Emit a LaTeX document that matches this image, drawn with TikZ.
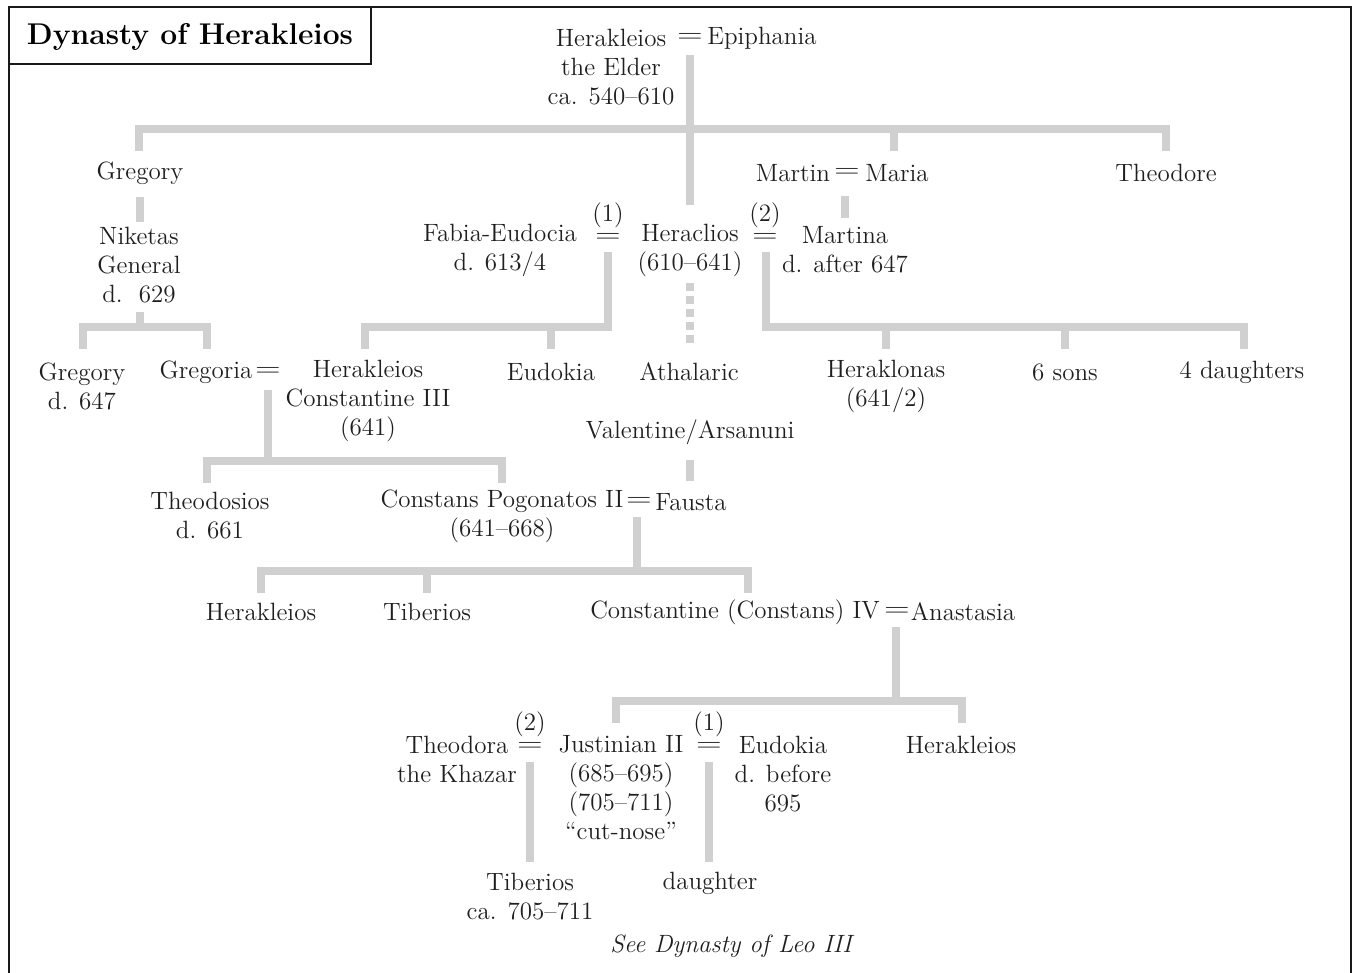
\documentclass[tikz,border=0pt]{standalone}
\newcommand{\weq}{\scalebox{1.35}[1]{=}}
\begin{document}
\begin{tikzpicture}[x=0.5pt,y=-0.5pt,
  txt/.style={inner sep=0pt, align=center, text=black!88,
    font=\fontsize{12.5}{14.5}\selectfont},
  eqs/.style={inner sep=0pt, text=black!88, font=\fontsize{12.5}{14.5}\selectfont},
  lab/.style={inner sep=0pt, align=center, text=black!88, font=\fontsize{12.5}{10.5}\selectfont},
  gl/.style={draw={rgb,255:red,208;green,208;blue,208}, line width=3.75pt, line join=miter, line cap=butt},
  gldot/.style={gl, dash pattern=on 4pt off 2.5pt},
  frame/.style={draw=black!90, line width=0.8pt}]
\useasboundingbox (0,0) rectangle (1354,973);
% frame and title
\draw[frame] (9,990) -- (9,7) -- (1351,7) -- (1351,990);
\draw[frame] (9,7) rectangle (371,64);
\node[inner sep=0pt, font=\fontsize{15}{17}\selectfont\bfseries] (title) at (190,37) {Dynasty of Herakleios};

% nodes
\node[txt] (hk) at (611,67) {Herakleios\\the Elder\\ca. 540–610};
\node[eqs] (eq0) at (690,38) {\weq};
\node[txt] (epi) at (762,38) {Epiphania};
\node[txt] (greg1) at (140,173) {Gregory};
\node[txt] (martin) at (793,173) {Martin};
\node[eqs] (eqm) at (847,173) {\weq};
\node[txt] (maria) at (897,173) {Maria};
\node[txt] (theo) at (1166,173) {Theodore};
\node[txt] (nik) at (139,265) {Niketas\\General\\d.~~629};
\node[txt] (fabia) at (500,250) {Fabia-Eudocia\\d. 613/4};
\node[lab] (eq1) at (608,223) {(1)\\\weq};
\node[txt] (hera) at (690,250) {Heraclios\\(610–641)};
\node[lab] (eq2) at (765,223) {(2)\\\weq};
\node[txt] (martina) at (845,250) {Martina\\d. after 647};
\node[txt] (greg2) at (82,386) {Gregory\\d. 647};
\node[txt] (gregoria) at (206,372) {Gregoria};
\node[eqs] (eqg) at (268,372) {\weq};
\node[txt] (hc3) at (368,401) {Herakleios\\Constantine III\\(641)};
\node[txt] (eudokia1) at (551,372) {Eudokia};
\node[txt] (athal) at (689,372) {Athalaric};
\node[txt] (heraklonas) at (886,386) {Heraklonas\\(641/2)};
\node[txt] (sons) at (1065,372) {6 sons};
\node[txt] (daught) at (1242,372) {4 daughters};
\node[txt] (valent) at (690,432) {Valentine/Arsanuni};
\node[txt] (theodos) at (210,516) {Theodosios\\d. 661};
\node[txt] (constans) at (502,516) {Constans Pogonatos II\\(641–668)};
\node[eqs] (eqc) at (639,502) {\weq};
\node[txt] (fausta) at (691,502) {Fausta};
\node[txt] (herak2) at (261,612) {Herakleios};
\node[txt] (tib1) at (427,612) {Tiberios};
\node[txt] (const4) at (735,612) {Constantine (Constans) IV};
\node[eqs] (eqa) at (897,612) {\weq};
\node[txt] (anast) at (963,612) {Anastasia};
\node[txt] (theodora) at (457,759) {Theodora\\the Khazar};
\node[lab] (eqt) at (530,732) {(2)\\\weq};
\node[txt] (just) at (621,788) {Justinian II\\(685–695)\\(705–711)\\“cut-nose”};
\node[lab] (eqj) at (709,732) {(1)\\\weq};
\node[txt] (eudokia2) at (783,774) {Eudokia\\d. before\\695};
\node[txt] (herak3) at (961,745) {Herakleios};
\node[txt] (tib2) at (530,897) {Tiberios\\ca. 705–711};
\node[txt] (daughter) at (710,883) {daughter};
\node[txt, font=\fontsize{12.5}{14.5}\selectfont\itshape] (see) at (731,946) {See Dynasty of Leo III};

% junction coordinates
\coordinate (a0) at (690,55);   \coordinate (a1) at (690,205);
\coordinate (b1) at (139,151);  \coordinate (b2) at (139,129);
\coordinate (b3) at (1166,129); \coordinate (b4) at (1166,151);
\coordinate (b5) at (894,129);  \coordinate (b6) at (894,151);
\coordinate (c1) at (140,197);  \coordinate (c2) at (140,222);
\coordinate (d1) at (140,312);  \coordinate (d2) at (140,327);
\coordinate (d3) at (83,349);   \coordinate (d4) at (83,327);
\coordinate (d5) at (207,327);  \coordinate (d6) at (207,349);
\coordinate (e1) at (845,196);  \coordinate (e2) at (845,218);
\coordinate (f1) at (608,252);  \coordinate (f2) at (608,327);
\coordinate (f3) at (365,327);  \coordinate (f4) at (365,349);
\coordinate (f5) at (551,327);  \coordinate (f6) at (551,349);
\coordinate (g1) at (690,283);  \coordinate (g2) at (690,345);
\coordinate (h1) at (766,252);  \coordinate (h2) at (766,327);
\coordinate (h3) at (1244,327); \coordinate (h4) at (1244,349);
\coordinate (h5) at (886,327);  \coordinate (h6) at (886,349);
\coordinate (h7) at (1065,327); \coordinate (h8) at (1065,349);
\coordinate (i1) at (268,390);  \coordinate (i2) at (268,461);
\coordinate (i3) at (207,483);  \coordinate (i4) at (207,461);
\coordinate (i5) at (502,461);  \coordinate (i6) at (502,483);
\coordinate (j1) at (690,460);  \coordinate (j2) at (690,481);
\coordinate (k1) at (637,517);  \coordinate (k2) at (637,571);
\coordinate (k3) at (261,593);  \coordinate (k4) at (261,571);
\coordinate (k5) at (748,571);  \coordinate (k6) at (748,593);
\coordinate (k7) at (427,571);  \coordinate (k8) at (427,593);
\coordinate (l1) at (896,627);  \coordinate (l2) at (896,701);
\coordinate (l3) at (616,723);  \coordinate (l4) at (616,701);
\coordinate (l5) at (962,701);  \coordinate (l6) at (962,723);
\coordinate (m1) at (530,762);  \coordinate (m2) at (530,862);
\coordinate (n1) at (709,762);  \coordinate (n2) at (709,862);

% connectors
\draw[gl] (a0) -- (a1);
\draw[gl] (b1) -- (b2) -- (b3) -- (b4);
\draw[gl] (b5) -- (b6);
\draw[gl] (c1) -- (c2);
\draw[gl] (d1) -- (d2);
\draw[gl] (d3) -- (d4) -- (d5) -- (d6);
\draw[gl] (e1) -- (e2);
\draw[gl] (f1) -- (f2) -- (f3) -- (f4);
\draw[gl] (f5) -- (f6);
\draw[gldot] (g1) -- (g2);
\draw[gl] (h1) -- (h2) -- (h3) -- (h4);
\draw[gl] (h5) -- (h6);
\draw[gl] (h7) -- (h8);
\draw[gl] (i1) -- (i2);
\draw[gl] (i3) -- (i4) -- (i5) -- (i6);
\draw[gl] (j1) -- (j2);
\draw[gl] (k1) -- (k2);
\draw[gl] (k3) -- (k4) -- (k5) -- (k6);
\draw[gl] (k7) -- (k8);
\draw[gl] (l1) -- (l2);
\draw[gl] (l3) -- (l4) -- (l5) -- (l6);
\draw[gl] (m1) -- (m2);
\draw[gl] (n1) -- (n2);
\end{tikzpicture}
\end{document}
